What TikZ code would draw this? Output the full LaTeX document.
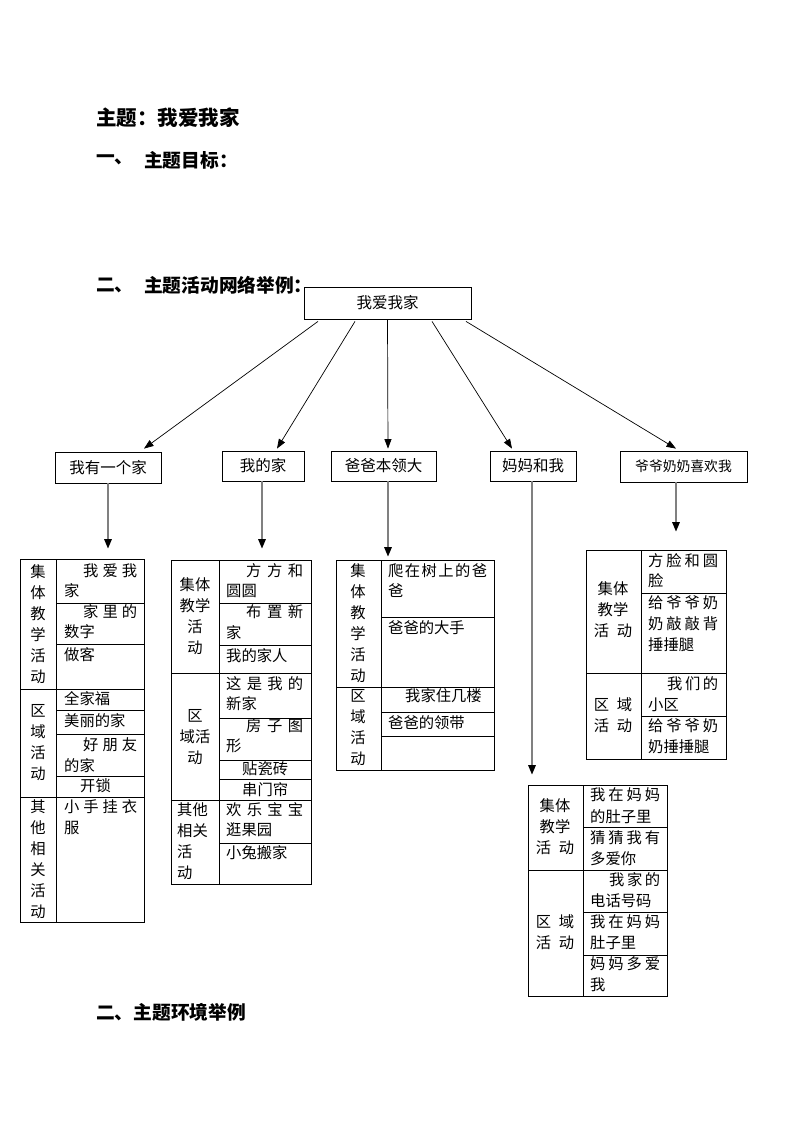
\documentclass[tikz,border=0pt]{standalone}
\usepackage{fontspec}
\newfontfamily\cjk{Noto Sans CJK SC}
\usetikzlibrary{arrows.meta}
\newcommand\tx[4]{\node[txt] (#1) at (#2,#3) {#4};}
\newcommand\sx[5]{\node[txt] (#1) at (#2,#3) {\makebox[#4pt][s]{#5}};}
\begin{document}
\begin{tikzpicture}[x=1pt,y=-1pt,
  box/.style={draw,line width=0.8pt,inner sep=0pt,font=\cjk\fontsize{15.5}{18}\selectfont},
  tbl/.style={draw,line width=0.8pt,inner sep=0pt},
  grid/.style={line width=0.8pt},
  txt/.style={inner sep=0pt,anchor=west,font=\cjk\fontsize{15.3}{21}\selectfont},
  lc/.style={inner sep=0pt,align=center,font=\cjk\fontsize{15.3}{21}\selectfont},
  head/.style={inner sep=0pt,anchor=west,font=\cjk\bfseries\fontsize{18.7}{22}\selectfont},
  arr/.style={line width=0.7pt,-{Triangle[length=9.5pt,width=7pt]}},
  varr/.style={draw=black!50,line width=1.5pt,-{Triangle[length=9.5pt,width=7.5pt,color=black]}}]
\useasboundingbox (0,0) rectangle (793,1122);
\fill[white] (0,0) rectangle (793,1122);

% headings
\node[head,font=\cjk\bfseries\fontsize{20.5}{22}\selectfont] (h0) at (96,118) {主题：我爱我家};
\node[head] (h1a) at (96,160) {一、};
\node[head] (h1b) at (144,160) {主题目标：};
\node[head] (h2a) at (96,285) {二、};
\node[head] (h2b) at (144,285) {主题活动网络举例：};
\node[head] (h3) at (96,1012) {二、主题环境举例};

% top level
\node[box,minimum width=167pt,minimum height=32pt] (root) at (387.5,303) {我爱我家};
\node[box,minimum width=106pt,minimum height=31pt] (n1) at (108,467.5) {我有一个家};
\node[box,minimum width=82pt,minimum height=30pt] (n2) at (263,466) {我的家};
\node[box,minimum width=105pt,minimum height=30pt] (n3) at (383.5,466) {爸爸本领大};
\node[box,minimum width=86pt,minimum height=30pt] (n4) at (533,466) {妈妈和我};
\node[box,minimum width=127pt,minimum height=31pt,font=\cjk\fontsize{13.8}{16}\selectfont] (n5) at (683.5,466.5) {爷爷奶奶喜欢我};

\draw[arr] ([xshift=-69.5pt,yshift=-2pt]root.south) -- ([xshift=36pt,yshift=3pt]n1.north);
\draw[arr] ([xshift=-32.5pt,yshift=-2pt]root.south) -- ([xshift=14pt,yshift=2pt]n2.north);
\draw[arr] (root.south) -- ([xshift=4.5pt,yshift=2pt]n3.north);
\draw[arr] ([xshift=44.5pt,yshift=-2pt]root.south) -- ([xshift=-21pt,yshift=2pt]n4.north);
\draw[arr] ([xshift=78.5pt,yshift=-2pt]root.south) -- ([xshift=-7.5pt,yshift=2pt]n5.north);

% tables (outer frames)
\node[tbl,minimum width=124pt,minimum height=363pt] (t1) at (82,740.5) {};
\node[tbl,minimum width=140pt,minimum height=324pt] (t2) at (241,722) {};
\node[tbl,minimum width=158pt,minimum height=210pt] (t3) at (415,665) {};
\node[tbl,minimum width=139pt,minimum height=211pt] (t5) at (597.5,890.5) {};
\node[tbl,minimum width=140pt,minimum height=209pt] (t4) at (656,654.5) {};

\draw[varr,shorten >=10pt] (n1.south) -- (n1.south |- t1.north);
\draw[varr,shorten >=11pt] ([xshift=-1pt]n2.south) -- ([xshift=-1pt]n2.south |- t2.north);
\draw[varr,shorten >=3pt] ([xshift=4.5pt]n3.south) -- ([xshift=4.5pt]n3.south |- t3.north);
\draw[varr,shorten >=10pt] ([xshift=-1pt]n4.south) -- ([xshift=-1pt]n4.south |- t5.north);
\draw[varr,shorten >=18pt] ([xshift=-7.5pt]n5.south) -- ([xshift=-7.5pt]n5.south |- t4.north);

% ---- table 1
\draw[grid] (56,559) -- (56,922);
\draw[grid] (56,603) -- (144,603);
\draw[grid] (56,644) -- (144,644);
\draw[grid] (20,689) -- (144,689);
\draw[grid] (56,710) -- (144,710);
\draw[grid] (56,734) -- (144,734);
\draw[grid] (56,776) -- (144,776);
\draw[grid] (20,797) -- (144,797);
\node[lc] (t1l1) at (38,624) {集\\体\\教\\学\\活\\动};
\node[lc] (t1l2) at (38,743) {区\\域\\活\\动};
\node[lc] (t1l3) at (38,859.5) {其\\他\\相\\关\\活\\动};
\sx{t1a}{83}{571}{54}{我\hfil 爱\hfil 我}
\tx{t1b}{64}{591}{家}
\sx{t1c}{83}{612}{54}{家\hfil 里\hfil 的}
\tx{t1d}{64}{632}{数字}
\tx{t1e}{64}{655}{做客}
\tx{t1f}{64}{699}{全家福}
\tx{t1g}{64}{721}{美丽的家}
\sx{t1h}{83}{745}{54}{好\hfil 朋\hfil 友}
\tx{t1i}{64}{766}{的家}
\tx{t1j}{80}{786}{开锁}
\sx{t1k}{64}{807}{73}{小\hfil 手\hfil 挂\hfil 衣}
\tx{t1l}{64}{828}{服}

% ---- table 2
\draw[grid] (219,560) -- (219,884);
\draw[grid] (219,603) -- (311,603);
\draw[grid] (219,645) -- (311,645);
\draw[grid] (171,673) -- (311,673);
\draw[grid] (219,718) -- (311,718);
\draw[grid] (219,760) -- (311,760);
\draw[grid] (219,779) -- (311,779);
\draw[grid] (171,800) -- (311,800);
\draw[grid] (219,843) -- (311,843);
\node[lc] (t2l1) at (195,616) {集体\\教学\\活\\动};
\node[lc] (t2l2) at (195,737.5) {区\\域活\\动};
\node[lc,align=left,anchor=west] (t2l3) at (177,841.5) {其他\\相关\\活\\动};
\sx{t2a}{246}{571}{57}{方\hfil 方\hfil 和}
\tx{t2b}{226}{591}{圆圆}
\sx{t2c}{246}{612}{57}{布\hfil 置\hfil 新}
\tx{t2d}{226}{633}{家}
\tx{t2e}{226}{656}{我的家人}
\sx{t2f}{226}{684}{77}{这\hfil 是\hfil 我\hfil 的}
\tx{t2g}{226}{704}{新家}
\sx{t2h}{246}{726}{57}{房\hfil 子\hfil 图}
\tx{t2i}{226}{746}{形}
\tx{t2j}{242}{769}{贴瓷砖}
\tx{t2k}{242}{789.5}{串门帘}
\sx{t2l}{226}{810}{77}{欢\hfil 乐\hfil 宝\hfil 宝}
\tx{t2m}{226}{830}{逛果园}
\tx{t2n}{226}{853}{小兔搬家}

% ---- table 3
\draw[grid] (381,560) -- (381,770);
\draw[grid] (381,617) -- (494,617);
\draw[grid] (336,687) -- (494,687);
\draw[grid] (381,712) -- (494,712);
\draw[grid] (381,736) -- (494,736);
\node[lc] (t3l1) at (358,623.5) {集\\体\\教\\学\\活\\动};
\node[lc] (t3l2) at (358,727.5) {区\\域\\活\\动};
\sx{t3a}{388}{571}{99}{爬\hfil 在\hfil 树\hfil 上\hfil 的\hfil 爸}
\tx{t3b}{388}{591}{爸}
\tx{t3c}{388}{628}{爸爸的大手}
\tx{t3d}{405}{696}{我家住几楼}
\tx{t3e}{388}{723}{爸爸的领带}

% ---- table 4 (grandparents)
\draw[grid] (641,550) -- (641,759);
\draw[grid] (641,593) -- (726,593);
\draw[grid] (586,673) -- (726,673);
\draw[grid] (641,716) -- (726,716);
\node[lc] (t4l1) at (613,610) {集体\\教学\\活\hspace{0.5em}动};
\node[lc] (t4l2) at (613,715) {区\hspace{0.5em}域\\活\hspace{0.5em}动};
\sx{t4a}{648}{561}{70}{方\hfil 脸\hfil 和\hfil 圆}
\tx{t4b}{648}{581}{脸}
\sx{t4c}{648}{603}{70}{给\hfil 爷\hfil 爷\hfil 奶}
\sx{t4d}{648}{624}{70}{奶\hfil 敲\hfil 敲\hfil 背}
\tx{t4e}{648}{645}{捶捶腿}
\sx{t4f}{667}{684}{51}{我\hfil 们\hfil 的}
\tx{t4g}{648}{705}{小区}
\sx{t4h}{648}{726}{70}{给\hfil 爷\hfil 爷\hfil 奶}
\tx{t4i}{648}{747}{奶捶捶腿}

% ---- table 5 (mother)
\draw[grid] (583,785) -- (583,996);
\draw[grid] (583,827) -- (667,827);
\draw[grid] (528,870) -- (667,870);
\draw[grid] (583,912) -- (667,912);
\draw[grid] (583,955) -- (667,955);
\node[lc] (t5l1) at (555,827) {集体\\教学\\活\hspace{0.5em}动};
\node[lc] (t5l2) at (555,932.5) {区\hspace{0.5em}域\\活\hspace{0.5em}动};
\sx{t5a}{590}{795}{70}{我\hfil 在\hfil 妈\hfil 妈}
\tx{t5b}{590}{817}{的肚子里}
\sx{t5c}{590}{838}{70}{猜\hfil 猜\hfil 我\hfil 有}
\tx{t5d}{590}{859}{多爱你}
\sx{t5e}{609}{880}{51}{我\hfil 家\hfil 的}
\tx{t5f}{590}{901}{电话号码}
\sx{t5g}{590}{922}{70}{我\hfil 在\hfil 妈\hfil 妈}
\tx{t5h}{590}{943}{肚子里}
\sx{t5i}{590}{964}{70}{妈\hfil 妈\hfil 多\hfil 爱}
\tx{t5j}{590}{985}{我}
\end{tikzpicture}
\end{document}
